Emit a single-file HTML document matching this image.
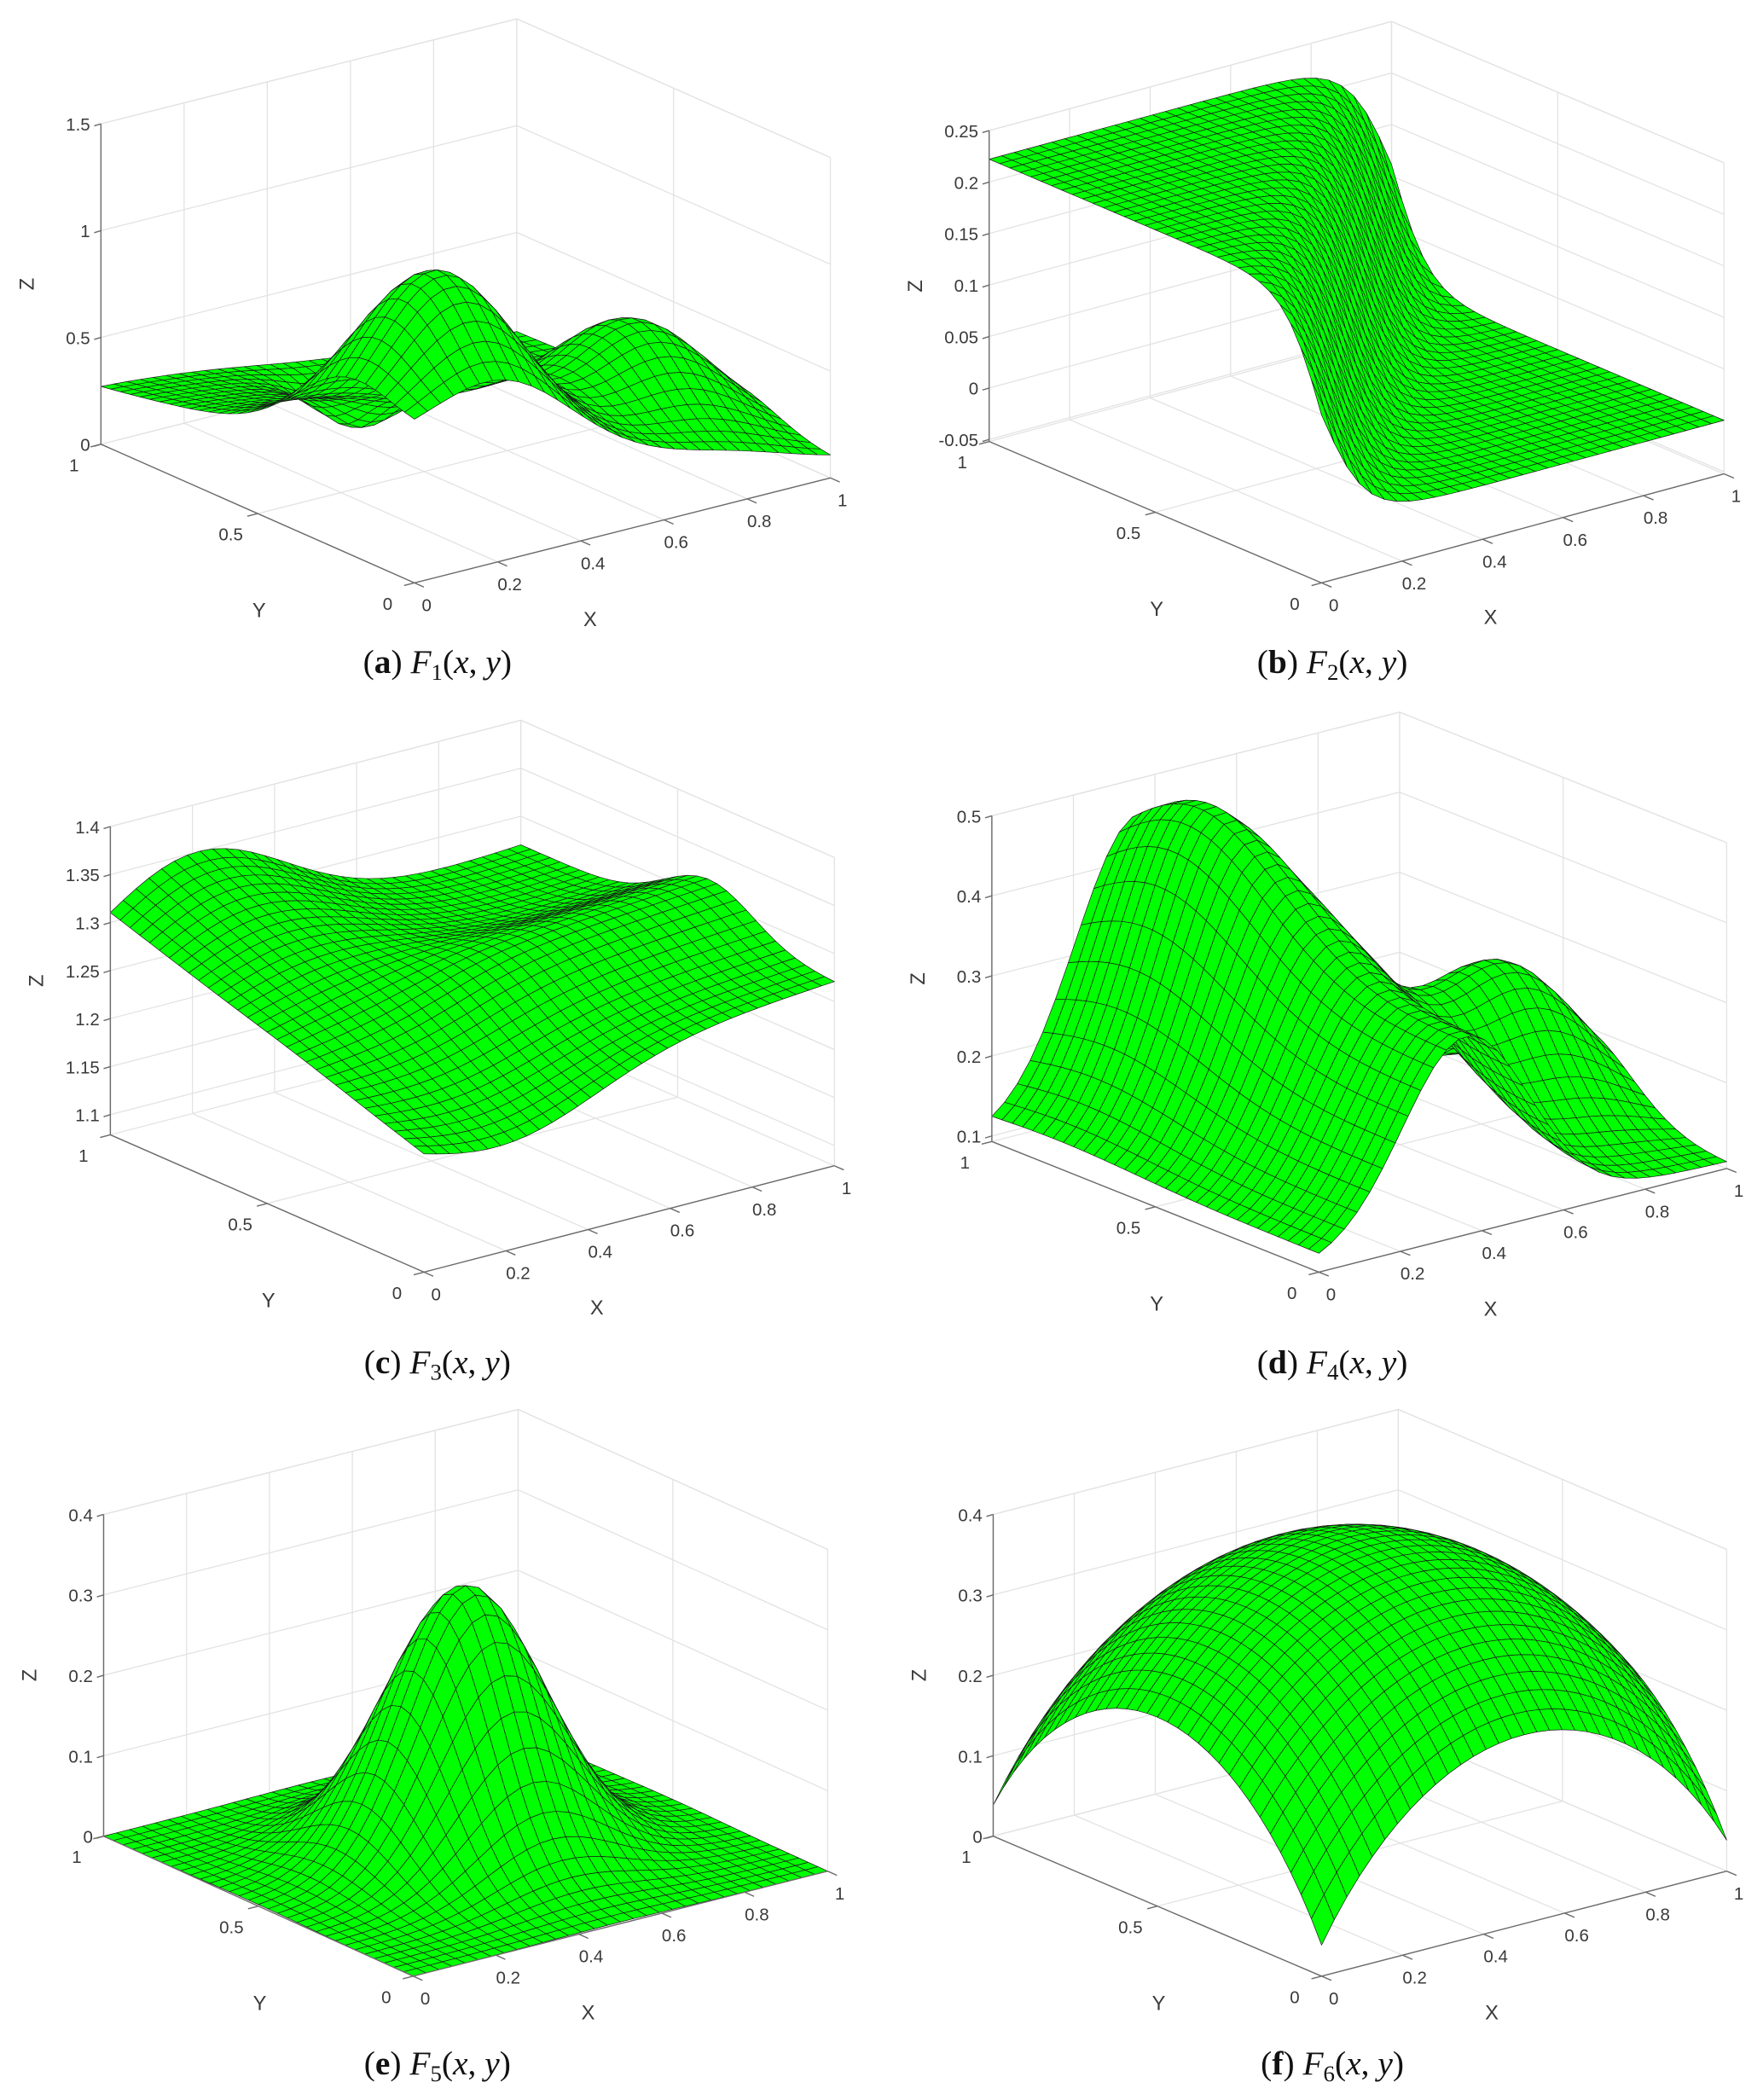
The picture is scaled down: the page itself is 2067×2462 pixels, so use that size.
<!DOCTYPE html>
<html><head><meta charset="utf-8">
<style>
html,body{margin:0;padding:0;background:#fff;}
svg{display:block;}
</style></head>
<body>
<svg id="fig" xmlns="http://www.w3.org/2000/svg" width="2067" height="2462" viewBox="0 0 1310 1560" preserveAspectRatio="none">
<rect x="0" y="0" width="1310" height="1560" fill="#fff"/>
</svg>
<script>
// ---- data: tick values and labels ----
const xTicks = [0, 0.2, 0.4, 0.6, 0.8, 1];
const xTickLabels = ["0", "0.2", "0.4", "0.6", "0.8", "1"];
const yTicks = [0, 0.5, 1];
const yTickLabels = ["0", "0.5", "1"];
const zTicksA = [0, 0.5, 1, 1.5];
const zLabelsA = ["0", "0.5", "1", "1.5"];
const zTicksB = [-0.05, 0, 0.05, 0.1, 0.15, 0.2, 0.25];
const zLabelsB = ["-0.05", "0", "0.05", "0.1", "0.15", "0.2", "0.25"];
const zTicksC = [1.1, 1.15, 1.2, 1.25, 1.3, 1.35, 1.4];
const zLabelsC = ["1.1", "1.15", "1.2", "1.25", "1.3", "1.35", "1.4"];
const zTicksD = [0.1, 0.2, 0.3, 0.4, 0.5];
const zLabelsD = ["0.1", "0.2", "0.3", "0.4", "0.5"];
const zTicksE = [0, 0.1, 0.2, 0.3, 0.4];
const zLabelsE = ["0", "0.1", "0.2", "0.3", "0.4"];
// ---- surface coefficient data ----
// F1 (Franke exponential): amplitudes, centers, divisors, y-power
const f1Amp = [0.75, 0.75, 0.5, -0.2];
const f1Cx = [2, -1, 7, 4];
const f1Cy = [2, -1, 3, 7];
const f1Dx = [4, 49, 4, 1];
const f1Dy = [4, 10, 4, 1];
const f1Py = [2, 1, 2, 2];
// F2 (cliff)
const f2Steep = [9];
const f2Scale = [9];
// F3 (fitted): base, base slope in x, tilt (amp, y-centre, x-centre, width), crest (amp, y-centre, y-width, x-onset, onset width)
const f3Base = [1.24, 0.03];
const f3Tilt = [0.16, 0.35, 0.2, 0.32];
const f3Crest = [0.05, 0.4, 0.2, 0.35, 0.1];
// F4 (fitted): base, ridge (center x, width, low height, extra height, peak y, y width), bump (amp, cx, wx, cy, wy)
const f4Base = [0.1];
const f4Ridge = [0.36, 0.22, 0.24, 0.16, 0.8, 0.35];
const f4Bump = [0.2, 0.8, 0.24, 0.45, 0.22];
// F5 (steep gaussian)
const f5Amp = [1 / 3];
const f5Rate = [81 / 4];
// F6 (sphere)
const f6Coef = [64, 81, 9, 0.5];

const fns = {
  a: (x, y) => { let s = 0; for (let i = 0; i < f1Amp.length; i++) { const dx = 9 * x - f1Cx[i], dy = 9 * y - f1Cy[i]; s += f1Amp[i] * Math.exp(-dx * dx / f1Dx[i] - Math.pow(dy, f1Py[i]) / f1Dy[i]); } return s; },
  b: (x, y) => (Math.tanh(f2Steep[0] * y - f2Steep[0] * x) + 1) / f2Scale[0],
  c: (x, y) => f3Base[0] + f3Base[1] * x
      + f3Tilt[0] * (y - f3Tilt[1]) * Math.exp(-Math.pow((x - f3Tilt[2]) / f3Tilt[3], 2))
      + f3Crest[0] * Math.exp(-Math.pow((y - f3Crest[1]) / f3Crest[2], 2)) / (1 + Math.exp(-(x - f3Crest[3]) / f3Crest[4])),
  d: (x, y) => f4Base[0] + Math.exp(-Math.pow((x - f4Ridge[0]) / f4Ridge[1], 2)) * (f4Ridge[2] + f4Ridge[3] * Math.exp(-Math.pow((y - f4Ridge[4]) / f4Ridge[5], 2))) + f4Bump[0] * Math.exp(-Math.pow((x - f4Bump[1]) / f4Bump[2], 2)) * Math.exp(-Math.pow((y - f4Bump[3]) / f4Bump[4], 2)),
  e: (x, y) => f5Amp[0] * Math.exp(-f5Rate[0] * ((x - 0.5) ** 2 + (y - 0.5) ** 2)),
  f: (x, y) => Math.sqrt(Math.max(0, f6Coef[0] - f6Coef[1] * ((x - 0.5) ** 2 + (y - 0.5) ** 2))) / f6Coef[2] - f6Coef[3]
};

const panels = [
  {id: 'a', L: [75, 330], F: [308, 433], R: [617, 355], zmin: 0, zmax: 1.5, zlen: 238, zt: zTicksA, zl: zLabelsA, cap: [325, 500], sub: '1'},
  {id: 'b', L: [735, 328], F: [982, 433], R: [1281, 352], zmin: -0.052, zmax: 0.25, zlen: 231, zt: zTicksB, zl: zLabelsB, cap: [990, 500], sub: '2'},
  {id: 'c', L: [82, 843], F: [315, 945], R: [620, 866], zmin: 1.079, zmax: 1.4, zlen: 229, zt: zTicksC, zl: zLabelsC, cap: [325, 1020], sub: '3'},
  {id: 'd', L: [737, 848], F: [980, 945], R: [1283, 868], zmin: 0.093, zmax: 0.5, zlen: 242, zt: zTicksD, zl: zLabelsD, cap: [990, 1020], sub: '4'},
  {id: 'e', L: [77, 1364], F: [307, 1468], R: [615, 1390], zmin: 0, zmax: 0.4, zlen: 239, zt: zTicksE, zl: zLabelsE, cap: [325, 1541], sub: '5'},
  {id: 'f', L: [738, 1364], F: [982, 1468], R: [1283, 1390], zmin: 0, zmax: 0.4, zlen: 239, zt: zTicksE, zl: zLabelsE, cap: [990, 1541], sub: '6'}
];

const NS = 'http://www.w3.org/2000/svg';
const svg = document.getElementById('fig');
function mk(tag, attrs, parent) { const e = document.createElementNS(NS, tag); for (const k in attrs) e.setAttribute(k, attrs[k]); parent.appendChild(e); return e; }

const N = 33;
panels.forEach(P => {
  const g = mk('g', {}, svg);
  
  
  const proj = (x, y, z) => {
    const gx = P.F[0] + x * (P.R[0] - P.F[0]) + y * (P.L[0] - P.F[0]);
    const gy = P.F[1] + x * (P.R[1] - P.F[1]) + y * (P.L[1] - P.F[1]);
    return [gx, gy - (z - P.zmin) / (P.zmax - P.zmin) * P.zlen];
  };
  const line = (a, b, col, w, name) => {
    const l = mk('line', {x1: a[0].toFixed(2), y1: a[1].toFixed(2), x2: b[0].toFixed(2), y2: b[1].toFixed(2), stroke: col, 'stroke-width': w}, g);
    
    
  };
  const GC = '#e2e2e2', GW = 0.8;
  xTicks.forEach(x => line(proj(x, 0, P.zmin), proj(x, 1, P.zmin), GC, GW, 'floor-grid-x'));
  yTicks.forEach(y => line(proj(0, y, P.zmin), proj(1, y, P.zmin), GC, GW, 'floor-grid-y'));
  xTicks.forEach(x => line(proj(x, 1, P.zmin), proj(x, 1, P.zmax), GC, GW, 'wall-grid-x'));
  yTicks.forEach(y => line(proj(1, y, P.zmin), proj(1, y, P.zmax), GC, GW, 'wall-grid-y'));
  P.zt.forEach(z => { line(proj(0, 1, z), proj(1, 1, z), GC, GW, 'wall-grid-z'); line(proj(1, 1, z), proj(1, 0, z), GC, GW, 'wall-grid-z'); });
  line(proj(0, 1, P.zmax), proj(1, 1, P.zmax), GC, GW, 'box-top-edge');
  line(proj(1, 1, P.zmax), proj(1, 0, P.zmax), GC, GW, 'box-top-edge');

  const fn = fns[P.id];
  const Z = [];
  for (let i = 0; i < N; i++) { Z.push([]); for (let j = 0; j < N; j++) Z[i].push(fn(i / (N - 1), j / (N - 1))); }
  const upX = P.F[1] - P.R[1], upY = P.F[1] - P.L[1];
  const quads = [];
  for (let i = 0; i < N - 1; i++) for (let j = 0; j < N - 1; j++) {
    const pts = [[i, j], [i + 1, j], [i + 1, j + 1], [i, j + 1]];
    let d = 0; const sp = [];
    pts.forEach(([a, b]) => {
      const x = a / (N - 1), y = b / (N - 1), z = Z[a][b];
      const zs = (z - P.zmin) / (P.zmax - P.zmin) * P.zlen;
      d += (upX * x + upY * y) * 1.732 - zs * 0.577;
      sp.push(proj(x, y, z));
    });
    quads.push({d: d, sp: sp});
  }
  quads.sort((a, b) => b.d - a.d);
  const sg = mk('g', {fill: '#00ff00', stroke: '#1a1a1a', 'stroke-width': 0.45, 'stroke-linejoin': 'round'}, g);
  
  
  quads.forEach(q => {
    const p = mk('polygon', {points: q.sp.map(s => s[0].toFixed(2) + ',' + s[1].toFixed(2)).join(' ')}, sg);
    
    
  });

  const AC = '#6b6b6b', AW = 0.9;
  line(proj(0, 1, P.zmin), proj(0, 1, P.zmax), AC, AW, 'z-axis');
  line(proj(0, 1, P.zmin), proj(0, 0, P.zmin), AC, AW, 'y-axis');
  line(proj(0, 0, P.zmin), proj(1, 0, P.zmin), AC, AW, 'x-axis');
  const T = {fill: '#3a3a3a', 'font-family': '"Liberation Sans", Arial, sans-serif', 'font-size': 13};
  const txt = (s, x, y, anchor, name, extra) => {
    const t = mk('text', Object.assign({x: x.toFixed(1), y: y.toFixed(1), 'text-anchor': anchor}, T, extra || {}), g);
    t.textContent = s;
    
    
    return t;
  };
  P.zt.forEach((z, k) => {
    const p = proj(0, 1, z);
    line(p, [p[0] - 5, p[1] + 1.5], AC, AW, 'z-tick');
    txt(P.zl[k], p[0] - 8, p[1] + 5, 'end', 'z-tick-label');
  });
  yTicks.forEach((y, k) => {
    const p = proj(0, y, P.zmin);
    line(p, proj(-0.025, y, P.zmin), AC, AW, 'y-tick');
    txt(yTickLabels[k], p[0] - 20, p[1] + 20, 'middle', 'y-tick-label');
  });
  xTicks.forEach((x, k) => {
    const p = proj(x, 0, P.zmin);
    line(p, proj(x, -0.03, P.zmin), AC, AW, 'x-tick');
    txt(xTickLabels[k], p[0] + 9, p[1] + 21, 'middle', 'x-tick-label');
  });
  const ym = proj(0, 0.5, P.zmin);
  txt('Y', ym[0] + 1, ym[1] + 77, 'middle', 'y-axis-title', {'font-size': 15});
  const xm = proj(0.5, 0, P.zmin);
  txt('X', xm[0] - 24, xm[1] + 71, 'middle', 'x-axis-title', {'font-size': 15});
  const zx = P.L[0] - 55, zy = P.L[1] - P.zlen / 2;
  txt('Z', zx, zy + 5, 'middle', 'z-axis-title', {'font-size': 15, transform: 'rotate(-90 ' + zx + ' ' + zy + ')'});

  const cap = mk('text', {x: P.cap[0], y: P.cap[1], 'text-anchor': 'middle', 'font-family': '"Liberation Serif", "DejaVu Serif", serif', 'font-size': 25, fill: '#111'}, g);
  
  
  cap.innerHTML = '(<tspan font-weight="bold">' + P.id + '</tspan>) <tspan font-style="italic">F</tspan><tspan font-size="17" dy="5">' + P.sub + '</tspan><tspan dy="-5">(</tspan><tspan font-style="italic">x</tspan>, <tspan font-style="italic">y</tspan>)';
});
</script>
</body></html>
